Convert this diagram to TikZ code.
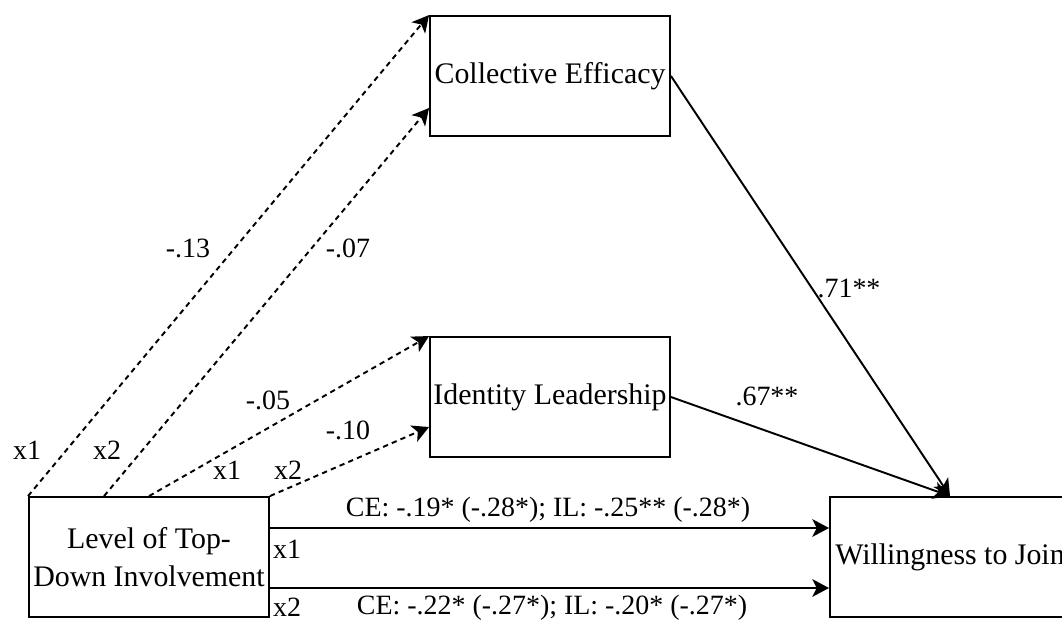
\documentclass[tikz,border=0pt]{standalone}
\usepackage{fontspec}
\setmainfont{Liberation Serif}
\usetikzlibrary{calc,arrows.meta}
\newcommand{\boxtxt}{\fontsize{17}{21.6}\selectfont}
\newcommand{\labtxt}{\fontsize{15.9}{19}\selectfont}

\begin{document}
\begin{tikzpicture}[x=0.02cm,y=-0.02cm,
	varbox/.style={draw,line width=1.1pt,minimum width=4.8cm,minimum height=2.4cm,inner sep=0pt,font=\boxtxt,align=center},
	path/.style={line width=1.1pt,-{Stealth[length=9.5pt,width=10pt,inset=2.5pt]}},
	indirect/.style={path,dash pattern=on 3pt off 2.4pt},
	lab/.style={inner sep=0pt,font=\labtxt}]
	\useasboundingbox (0,0) rectangle (1062,623);
	\clip (0,0) rectangle (1062,623);

	%Variables
	\node[varbox] at (550,76) (ce) {Collective Efficacy};
	\node[varbox] at (550,397) (il) {Identity Leadership};
	\node[varbox] at (149,557) (lvl) {Level of Top-\\Down Involvement};
	\node[varbox] at (950,557) (will) {Willingness to Join};

	%a paths
	\draw[indirect] (lvl.north west) -- (ce.north west);
	\draw[indirect] ($(lvl.north west)+(76,0)$) -- ($(ce.west)+(0,32)$);
	\draw[indirect] ($(lvl.north west)+(121,0)$) -- (il.north west);
	\draw[indirect] (lvl.north east) -- ($(il.west)+(0,30)$);

	%b paths
	\draw[path] (ce.east) -- (will.north);
	\draw[path] (il.east) -- (will.north);

	%direct paths
	\draw[path] ($(lvl.east)+(0,-29)$) -- ($(will.west)+(0,-29)$);
	\draw[path] ($(lvl.east)+(0,31)$) -- ($(will.west)+(0,31)$);

	%coefficients
	\node[lab] at (27,450) (a1) {x1};
	\node[lab] at (107,450) (a2) {x2};
	\node[lab] at (227,470) (a3) {x1};
	\node[lab] at (288,470) (a4) {x2};
	\node[lab] at (188,248) (ce1) {-.13};
	\node[lab] at (348,248) (ce2) {-.07};
	\node[lab] at (268,400) (il1) {-.05};
	\node[lab] at (348,430) (il2) {-.10};
	\node[lab] at (849,288) (bce) {.71**};
	\node[lab] at (767,396) (bil) {.67**};
	\node[lab] at (548,510) (c1) {CE: -.19* (-.28*); IL: -.25** (-.28*)};
	\node[lab] at (552,608) (c2) {CE: -.22* (-.27*); IL: -.20* (-.27*)};
	\node[lab] at (287,549) (d1) {x1};
	\node[lab] at (287,607) (d2) {x2};

\end{tikzpicture}
\end{document}
